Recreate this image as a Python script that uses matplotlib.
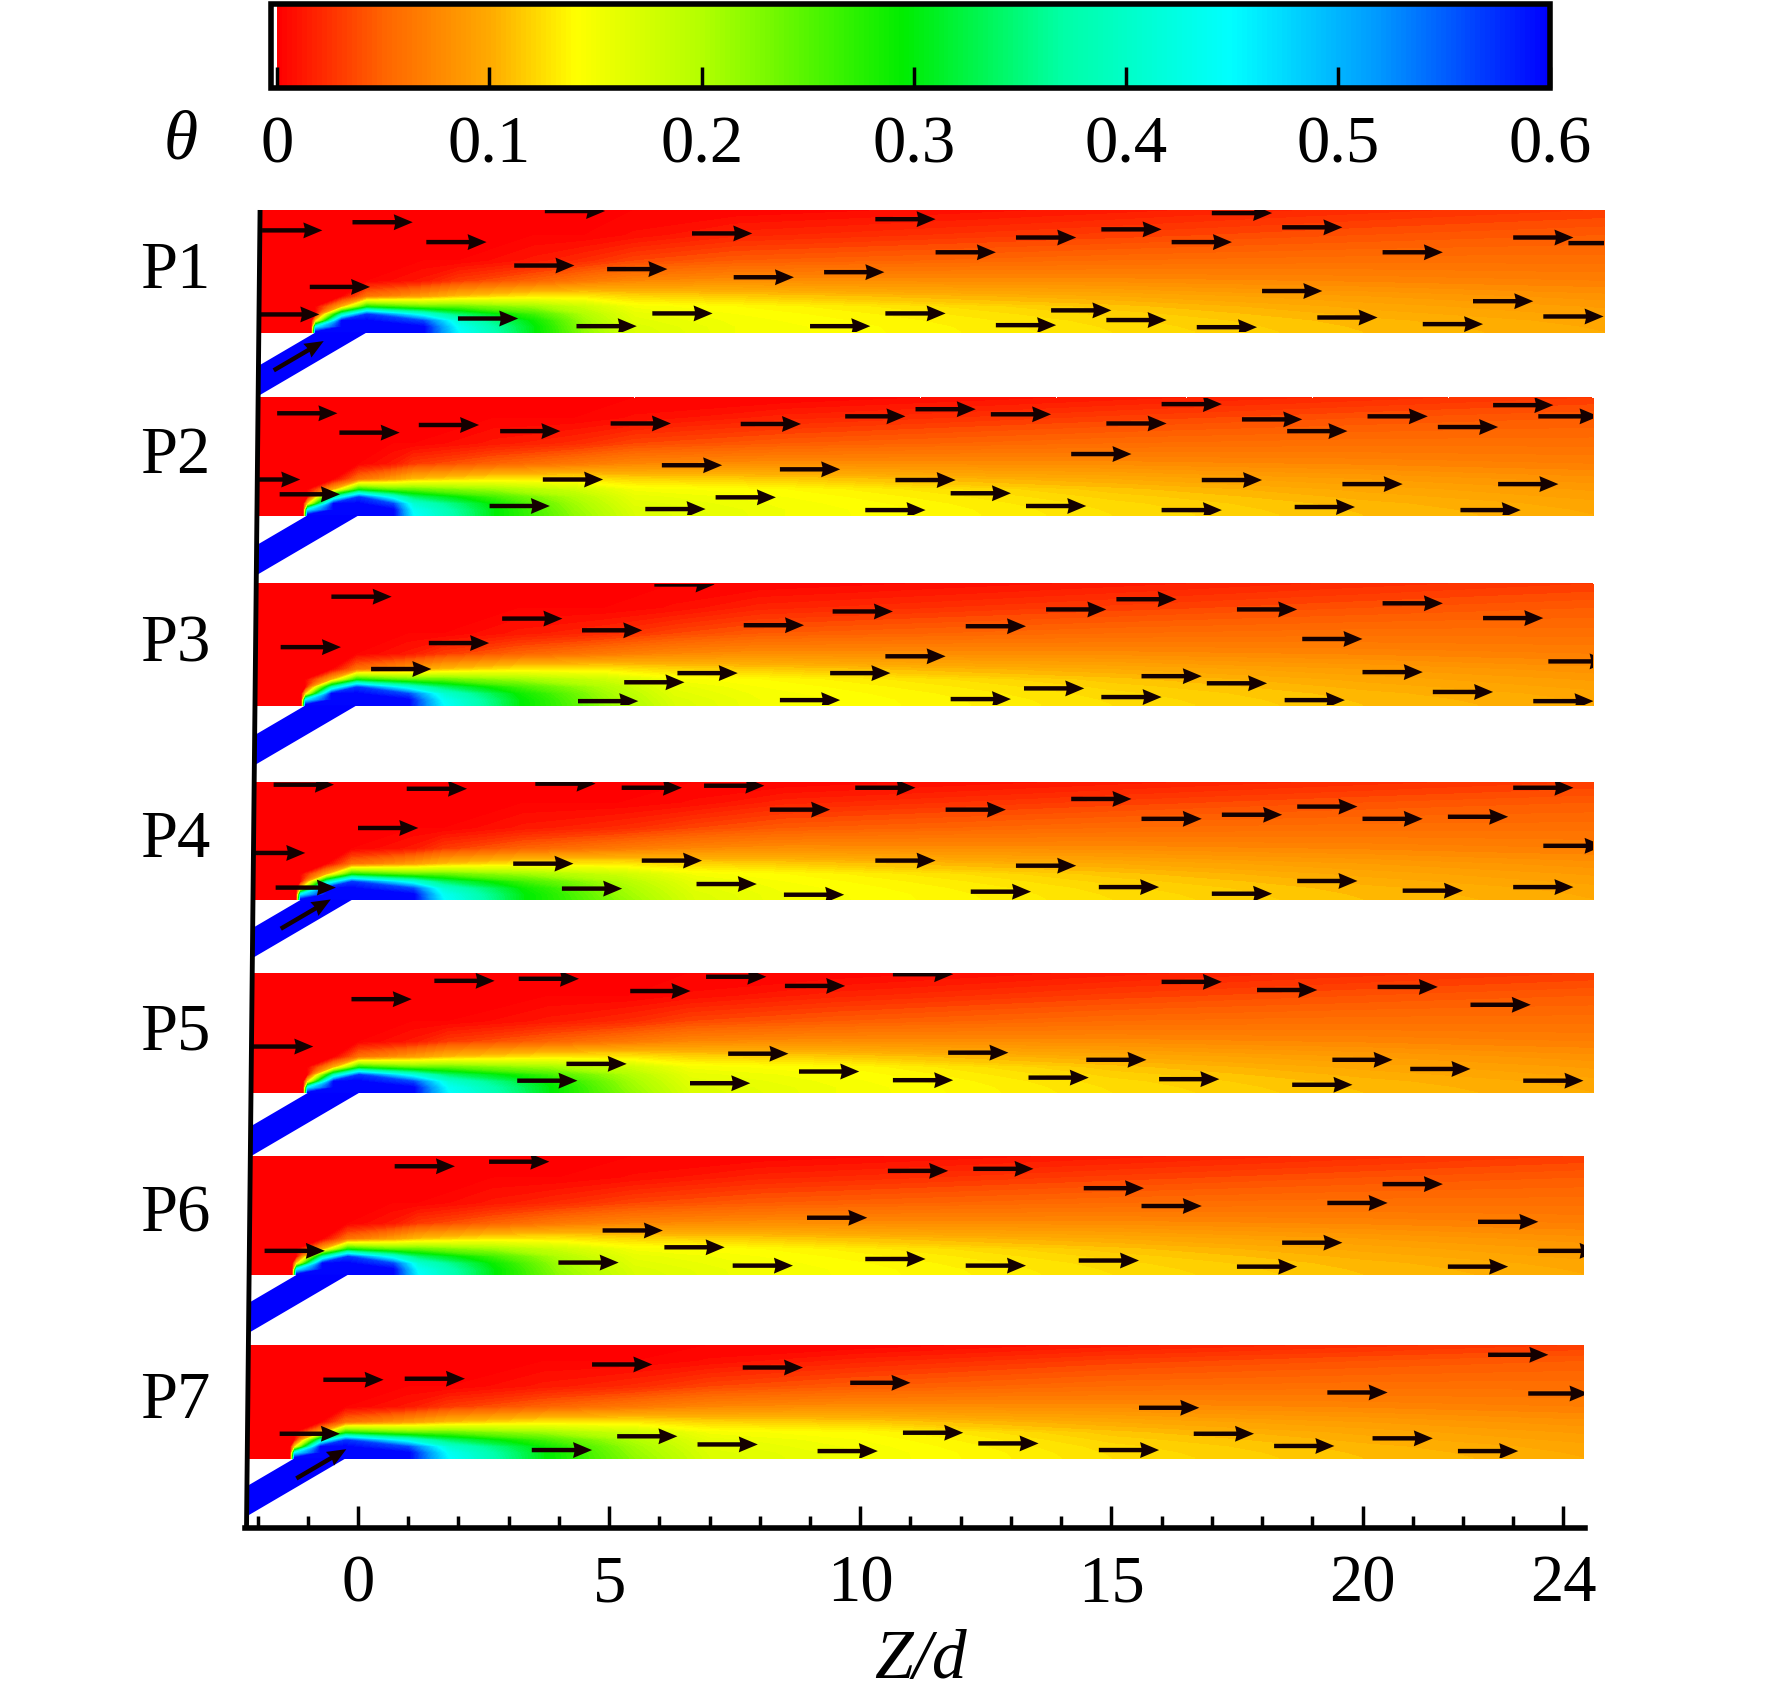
import numpy as np
import matplotlib
matplotlib.use("Agg")
import matplotlib.pyplot as plt
from matplotlib.colors import LinearSegmentedColormap, Normalize
from matplotlib.patches import Rectangle
from matplotlib.cm import ScalarMappable

plt.rcParams['font.family'] = ['Liberation Serif', 'DejaVu Serif']

# ---- data ----
panel_names = ['P1', 'P2', 'P3', 'P4', 'P5', 'P6', 'P7']
wall_y = [23.47, 19.88, 16.15, 12.33, 8.54, 4.97, 1.37]     # wall level of each panel
panel_h = [2.40, 2.30, 2.38, 2.31, 2.35, 2.33, 2.22]        # panel height
z_right = [24.81, 24.59, 24.59, 24.59, 24.59, 24.41, 24.41]
hole_z = [0.18, 0.02, -0.02, -0.12, 0.02, -0.20, -0.24]     # downstream hole edge

# Z/d where the wall colour reaches blue end, cyan, green, yellow-green, yellow start, yellow end
feat_z = [
    [1.3, 2.0, 3.5, 4.5, 5.5, 7.5],
    [0.7, 1.1, 2.7, 4.3, 5.5, 8.5],
    [1.0, 1.7, 3.2, 4.9, 6.3, 8.0],
    [1.1, 1.7, 3.3, 5.2, 6.7, 8.5],
    [1.1, 1.8, 3.8, 5.4, 6.6, 9.5],
    [0.7, 1.2, 2.7, 4.0, 5.5, 8.0],
    [1.0, 1.8, 3.7, 5.5, 7.0, 10.0],
]

# heights above the wall for the theta table (last row = panel top)
theta_h = [0.0, 0.10, 0.22, 0.35, 0.50, 0.70, 1.00, 1.40, 1.90]
# columns: left, up-1.1, up, mid, down, blue, cyan, green, y-green, y-start, y-end, Z=15, Z=20, right
theta_rows = [
    [0, 0, .60, .60, .60, .60, .45, .30, .22, .170, .150, .125, .110, .100],
    [0, 0, .45, .60, .60, .60, .44, .30, .215, .168, .150, .124, .109, .099],
    [0, 0, .12, .60, .60, .56, .41, .29, .21, .163, .148, .122, .107, .097],
    [0, 0, 0, .38, .57, .42, .34, .26, .20, .158, .145, .118, .103, .093],
    [0, 0, 0, .10, .28, .24, .24, .21, .18, .148, .140, .112, .098, .089],
    [0, 0, 0, 0, .06, .09, .11, .13, .13, .120, .115, .100, .090, .082],
    [0, 0, 0, 0, 0, .012, .03, .05, .065, .075, .080, .078, .074, .070],
    [0, 0, 0, 0, 0, 0, 0, .012, .022, .035, .045, .055, .058, .058],
    [0, 0, 0, 0, 0, 0, 0, 0, 0, .006, .018, .032, .040, .045],
]
theta_top = [0, 0, 0, 0, 0, 0, 0, 0, 0, 0, 0, .012, .022, .030]

# velocity arrow centres (Z/d, height above wall)
arrows = {
    'P1': [(-1.31, 2.0), (0.49, 2.16), (1.96, 1.77), (4.32, 2.38), (7.25, 1.94), (10.9, 2.22),
           (12.1, 1.57), (13.7, 1.86), (15.4, 2.02), (16.8, 1.77), (17.6, 2.34), (19.0, 2.06),
           (23.6, 1.86), (24.7, 1.75), (3.71, 1.31), (5.56, 1.24), (8.08, 1.08), (9.88, 1.18),
           (21.0, 1.57), (-0.36, 0.89), (18.6, 0.81), (22.8, 0.61), (-1.37, 0.35), (2.59, 0.27),
           (6.46, 0.37), (4.95, 0.12), (9.6, 0.12), (11.1, 0.37), (13.3, 0.14), (14.4, 0.43),
           (15.5, 0.24), (17.3, 0.10), (19.7, 0.29), (21.8, 0.16), (24.2, 0.31)],
    'P2': [(-1.01, 2.0), (0.23, 1.62), (1.81, 1.77), (3.43, 1.65), (5.63, 1.80), (8.22, 1.79),
           (10.3, 1.94), (11.7, 2.08), (13.2, 1.98), (15.5, 1.8), (6.65, 0.98), (9.0, 0.9),
           (14.8, 1.2), (-1.75, 0.7), (4.28, 0.7), (11.3, 0.69), (-0.96, 0.41), (3.22, 0.18),
           (6.32, 0.12), (7.72, 0.35), (12.4, 0.43), (10.7, 0.1), (13.9, 0.18), (16.6, 2.18),
           (18.2, 1.88), (19.1, 1.65), (20.7, 1.94), (22.1, 1.73), (23.2, 2.16), (24.1, 1.94),
           (17.4, 0.69), (20.2, 0.61), (23.3, 0.61), (16.6, 0.1), (19.25, 0.16), (22.55, 0.1)],
    'P3': [(6.5, 2.37), (0.07, 2.13), (3.47, 1.70), (5.06, 1.47), (8.28, 1.57), (10.05, 1.84),
           (15.7, 2.08), (14.3, 1.88), (18.1, 1.88), (21.0, 2.0), (23.0, 1.71), (12.7, 1.55),
           (19.4, 1.3), (-0.94, 1.14), (2.01, 1.22), (11.1, 0.96), (0.86, 0.71), (6.96, 0.63),
           (10.0, 0.63), (16.2, 0.57), (17.5, 0.43), (20.6, 0.65), (24.3, 0.86), (5.9, 0.45),
           (13.86, 0.33), (4.98, 0.08), (9.0, 0.1), (12.4, 0.12), (15.4, 0.16), (19.05, 0.1),
           (22.0, 0.26), (24.0, 0.08)],
    'P4': [(-1.08, 2.26), (1.57, 2.18), (4.13, 2.28), (5.85, 2.2), (7.49, 2.24), (10.5, 2.2),
           (8.8, 1.77), (12.3, 1.77), (14.8, 1.98), (16.2, 1.59), (17.8, 1.67), (19.3, 1.83),
           (20.6, 1.59), (22.3, 1.63), (23.6, 2.2), (24.2, 1.06), (0.6, 1.41), (-1.65, 0.92),
           (3.69, 0.71), (6.25, 0.77), (10.9, 0.77), (13.7, 0.67), (-1.04, 0.24), (4.66, 0.22),
           (7.34, 0.31), (9.08, 0.1), (12.8, 0.16), (15.35, 0.25), (17.6, 0.12), (19.3, 0.37),
           (21.4, 0.18), (23.6, 0.25)],
    'P5': [(0.47, 1.84), (2.12, 2.2), (3.8, 2.24), (6.02, 2.0), (7.53, 2.28), (9.1, 2.1),
           (11.25, 2.33), (-1.49, 0.91), (7.97, 0.77), (12.35, 0.79), (15.1, 0.65), (4.75, 0.57),
           (9.38, 0.42), (3.77, 0.24), (7.21, 0.19), (11.25, 0.25), (13.95, 0.3), (16.6, 2.18),
           (18.5, 2.02), (20.9, 2.08), (22.75, 1.73), (20.0, 0.65), (21.55, 0.47), (16.55, 0.27),
           (19.2, 0.16), (23.8, 0.24)],
    'P6': [(1.33, 2.13), (3.21, 2.22), (11.15, 2.04), (12.85, 2.08), (15.05, 1.70), (9.54, 1.12),
           (5.47, 0.87), (6.7, 0.54), (-1.26, 0.47), (4.59, 0.24), (8.06, 0.18), (10.7, 0.31),
           (12.7, 0.18), (14.95, 0.28), (16.2, 1.35), (21.0, 1.78), (19.9, 1.41), (22.9, 1.04),
           (24.1, 0.47), (19.0, 0.63), (18.1, 0.16), (22.3, 0.16)],
    'P7': [(-0.09, 1.54), (1.53, 1.56), (5.26, 1.84), (8.26, 1.78), (10.4, 1.48), (23.1, 2.03),
           (19.9, 1.29), (23.9, 1.27), (16.15, 0.99), (-0.96, 0.48), (5.76, 0.43), (4.06, 0.16),
           (7.36, 0.27), (9.75, 0.14), (11.45, 0.5), (12.95, 0.29), (15.35, 0.16), (17.24, 0.48),
           (18.84, 0.24), (20.8, 0.39), (22.5, 0.14)],
}
# arrows inside the inclined hole (Z/d, height below wall)
hole_arrows = {'P1': (-1.18, -0.46), 'P4': (-1.04, -0.28), 'P7': (-0.73, -0.11)}

cbar_ticks = [0, 0.1, 0.2, 0.3, 0.4, 0.5, 0.6]
cbar_labels = ['0', '0.1', '0.2', '0.3', '0.4', '0.5', '0.6']
x_major = [0, 5, 10, 15, 20, 24]

# colour map (Tecplot-like rainbow)
cmap_nodes = [(0.00, (1.0, 0.0, 0.0)), (0.05 / 0.6, (1.0, 0.40, 0.0)),
              (0.10 / 0.6, (1.0, 0.67, 0.0)), (0.14 / 0.6, (1.0, 1.0, 0.0)),
              (0.20 / 0.6, (0.70, 1.0, 0.0)), (0.295 / 0.6, (0.0, 0.93, 0.0)),
              (0.37 / 0.6, (0.0, 1.0, 0.65)), (0.45 / 0.6, (0.0, 1.0, 1.0)),
              (0.52 / 0.6, (0.0, 0.6, 1.0)), (1.0, (0.0, 0.0, 1.0))]
cmap = LinearSegmentedColormap.from_list('rainbow_tp', cmap_nodes)

W, H = 1772, 1697
fig = plt.figure(figsize=(W / 100, H / 100), dpi=100)

# ---- main axes ----
ax = fig.add_axes([245 / W, 1 - 1528 / H, 1340 / W, 1318 / H])
xmin, xmax, ymax = -2.25, 24.43, 25.87
ax.set_xlim(xmin, xmax)
ax.set_ylim(0, ymax)
line_bot, line_top = -2.22, -1.95


def line_z(y):
    return line_bot + (line_top - line_bot) * y / ymax


tan30 = np.tan(np.radians(30))
levels = np.linspace(0, 0.6, 121)
arrow_kw = dict(angles='xy', scale_units='xy', scale=1, pivot='middle',
                width=0.0033, headwidth=3.6, headlength=4.3, headaxislength=4.0,
                color='#140000', zorder=3)

for i, name in enumerate(panel_names):
    w = wall_y[i]
    ph = panel_h[i]
    zc = hole_z[i]
    zr = z_right[i]
    cols = [0.0, zc - 1.1, zc - 1.02, zc - 0.5, zc] + feat_z[i] + [15, 20, zr]
    hh = theta_h + [ph]
    th = np.array(theta_rows + [theta_top])
    X = np.tile(cols, (len(hh), 1)).astype(float)
    Y = np.tile(np.array(hh)[:, None] + w, (1, len(cols)))
    X[:, 0] = line_z(Y[:, 0])
    cs = ax.contourf(X, Y, th, levels=levels, cmap=cmap, vmin=0, vmax=0.6,
                     extend='both', antialiased=False, zorder=1)
    cs.set_clip_on(False)

    # inclined hole
    zl = line_z(w - 0.6)
    strip = [(zc - 1.02, w), (zc, w), (zl, w - (zc - zl) * tan30),
             (zl, w - (zc - 1.02 - zl) * tan30)]
    ax.fill([p[0] for p in strip], [p[1] for p in strip], color='#0000ff',
            lw=0, zorder=1.5, clip_on=False)

    # velocity vectors, clipped to the panel rectangle
    pts = np.array(arrows[name])
    clip = Rectangle((line_z(w), w), zr - line_z(w), ph, transform=ax.transData)
    q = ax.quiver(pts[:, 0], pts[:, 1] + w, np.full(len(pts), 1.2), np.zeros(len(pts)),
                  **arrow_kw)
    q.set_clip_path(clip)

    if name in hole_arrows:
        hz, hy = hole_arrows[name]
        ax.quiver([hz], [w + hy], [1.15 * np.cos(np.radians(30))],
                  [1.15 * np.sin(np.radians(30))], **arrow_kw)

    ax.text(-3.64, w + ph / 2, name, fontsize=48, ha='center', va='center')

# slanted left boundary
ax.plot([line_bot, line_top], [0, ymax], color='black', lw=3.5, zorder=4,
        clip_on=False, solid_capstyle='butt')

for s in ['left', 'right', 'top']:
    ax.spines[s].set_visible(False)
ax.spines['bottom'].set_linewidth(4)
ax.set_yticks([])
ax.set_xticks(x_major)
ax.set_xticklabels([str(v) for v in x_major])
ax.set_xticks([v for v in range(-2, 25) if v not in x_major], minor=True)
ax.tick_params(axis='x', which='major', direction='in', length=16, width=2.5,
               labelsize=48, pad=19)
ax.tick_params(axis='x', which='minor', direction='in', length=9, width=2.5)
fig.text(920 / W, 1 - 1661 / H, 'Z/d', fontsize=50, style='italic',
         ha='center', va='center')

# ---- colour bar ----
cax = fig.add_axes([271 / W, 1 - 88 / H, (1550 - 271) / W, 84 / H])
cb = fig.colorbar(ScalarMappable(norm=Normalize(0, 0.6), cmap=cmap), cax=cax,
                  orientation='horizontal')
cb.set_ticks(cbar_ticks)
cb.set_ticklabels(cbar_labels)
cb.outline.set_linewidth(4)
cax.set_xlim(-0.003, 0.6)
cax.tick_params(axis='x', direction='in', length=15, width=2.5, labelsize=48, pad=20)
fig.text(181 / W, 1 - 142 / H, 'θ', fontsize=50, style='italic', ha='center', va='center')

fig.savefig('out.png', dpi=100)
